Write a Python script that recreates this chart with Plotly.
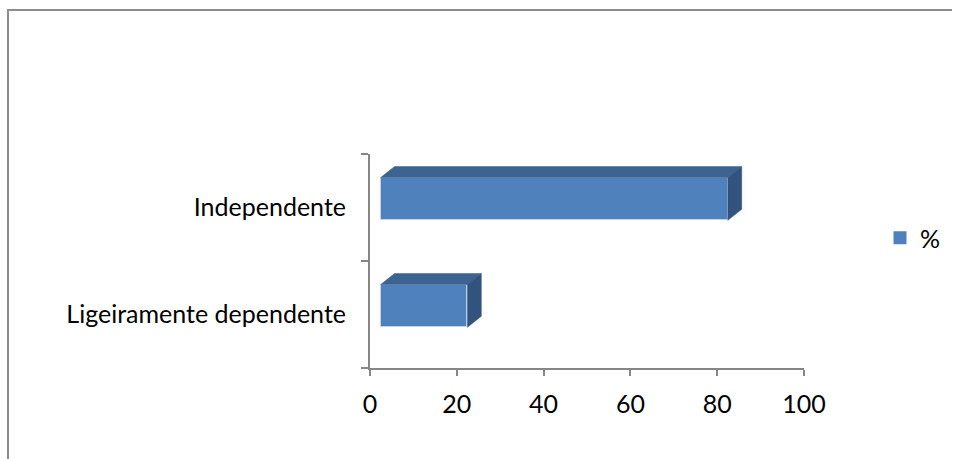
import plotly.graph_objects as go

# Data
categories = ["Ligeiramente dependente", "Independente"]
values = [20, 80]
series_name = "%"
x_ticks = [0, 20, 40, 60, 80, 100]

# Figure geometry (pixels)
W, H = 953, 459
ML, MR, MT, MB = 370, 149, 154, 91
PW, PH = W - ML - MR, H - MT - MB

# Pseudo-3D bar styling (in data units)
front_color = "#4F81BD"
top_color = "#3D6490"
side_color = "#31537D"
bar_height = 0.40          # thickness of the front face along the category axis
bar_lift = 0.08            # front face sits slightly above the category centre
base_shift = 2.45          # front face starts a little right of zero
depth_x = 3.2              # oblique depth, value axis
depth_y = 0.103            # oblique depth, category axis

pos = list(range(len(categories)))
centers = [p + bar_lift for p in pos]

fig = go.Figure()

# Front faces
fig.add_trace(go.Bar(
    y=centers, x=values, base=[base_shift] * len(values),
    orientation="h", width=bar_height, name=series_name,
    marker=dict(color=front_color, line=dict(color="rgba(200,215,235,0.8)", width=1)),
    showlegend=False, legendgroup="s",
))

# Top and side faces built from the same values
top_x, top_y, side_x, side_y = [], [], [], []
for c, v in zip(centers, values):
    x0, x1 = base_shift, base_shift + v
    yt, yb = c + bar_height / 2, c - bar_height / 2
    top_x += [x0, x0 + depth_x, x1 + depth_x, x1, x0, None]
    top_y += [yt, yt + depth_y, yt + depth_y, yt, yt, None]
    side_x += [x1, x1 + depth_x, x1 + depth_x, x1, x1, None]
    side_y += [yt, yt + depth_y, yb + depth_y, yb, yt, None]

fig.add_trace(go.Scatter(x=top_x, y=top_y, mode="lines", fill="toself",
                         fillcolor=top_color, line=dict(color=top_color, width=0.5),
                         showlegend=False, hoverinfo="skip", legendgroup="s"))
fig.add_trace(go.Scatter(x=side_x, y=side_y, mode="lines", fill="toself",
                         fillcolor=side_color, line=dict(color=side_color, width=0.5),
                         showlegend=False, hoverinfo="skip", legendgroup="s"))

# Legend key for the series (square swatch)
fig.add_trace(go.Scatter(x=[None], y=[None], mode="markers", name=series_name,
                         marker=dict(symbol="square", size=13, color=front_color),
                         legendgroup="s", showlegend=True))

axis_grey = "#868686"
font_family = "Lato, 'Open Sans', sans-serif"
font_size = 25

fig.update_xaxes(
    range=[0, 100], tickvals=x_ticks, ticktext=[str(t) for t in x_ticks],
    showgrid=False, zeroline=False, showline=True, linecolor=axis_grey, linewidth=2,
    ticks="outside", ticklen=6, tickwidth=2, tickcolor=axis_grey,
    ticklabelstandoff=7,
    tickfont=dict(family=font_family, size=font_size, color="#000000"),
    fixedrange=True,
)
fig.update_yaxes(
    range=[-0.5, len(categories) - 0.5], tickvals=pos, ticktext=categories,
    showgrid=False, zeroline=False, showline=True, linecolor=axis_grey, linewidth=2,
    ticks="", ticklabelstandoff=17,
    minor=dict(tickvals=[p - 0.5 for p in pos] + [pos[-1] + 0.5], ticks="outside",
               ticklen=7, tickwidth=2, tickcolor=axis_grey, showgrid=False),
    tickfont=dict(family=font_family, size=font_size, color="#000000"),
    fixedrange=True,
)

# Outer frame: left edge and top edge as separate lines
def px_x(px):
    return (px - ML) / PW

def px_y(py):
    return (H - MB - py) / PH

frame = dict(color="#8C8C8C", width=2)
fig.add_shape(type="line", xref="paper", yref="paper",
              x0=px_x(8), x1=px_x(8), y0=px_y(H), y1=px_y(9), line=frame)
fig.add_shape(type="line", xref="paper", yref="paper",
              x0=px_x(7), x1=px_x(W - 1), y0=px_y(10), y1=px_y(10), line=frame)

fig.update_layout(
    width=W, height=H,
    margin=dict(l=ML, r=MR, t=MT, b=MB, pad=0, autoexpand=False),
    paper_bgcolor="white", plot_bgcolor="white",
    bargap=0,
    legend=dict(x=px_x(880), y=px_y(238), xanchor="left", yanchor="middle",
                font=dict(family=font_family, size=font_size, color="#000000"),
                bgcolor="rgba(0,0,0,0)", itemwidth=30),
    showlegend=True,
)

fig.write_html(
    "out.html", config={"displayModeBar": False},
    post_script=("document.documentElement.style.overflow='hidden';"
                 "document.body.style.margin='0';document.body.style.overflow='hidden';"),
)
